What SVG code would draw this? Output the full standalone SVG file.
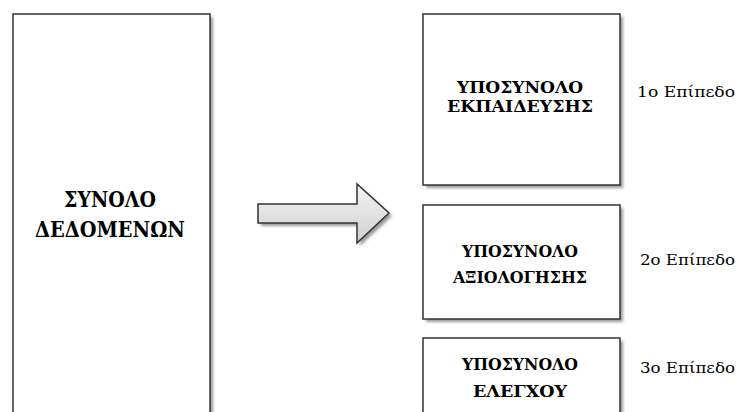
<svg xmlns="http://www.w3.org/2000/svg" width="736" height="412" viewBox="0 0 736 412">
<defs>
<linearGradient id="ag" x1="0" y1="0" x2="0" y2="1">
<stop offset="0" stop-color="#f4f4f4"/>
<stop offset="1" stop-color="#cfcfcf"/>
</linearGradient>
<filter id="sh" x="-10%" y="-10%" width="130%" height="130%">
<feGaussianBlur stdDeviation="1.5"/>
</filter>
</defs>
<style>
.box{fill:#fff;stroke:#333;stroke-width:1.5}
.shadow{fill:#999;filter:url(#sh)}
.t{font-family:"DejaVu Serif",serif;font-weight:bold;fill:#000;text-anchor:middle}
.lvl{font-family:"DejaVu Serif",serif;font-size:15px;fill:#000}
</style>
<rect width="736" height="412" fill="#fff"/>
<g id="set">
<rect class="shadow" x="16" y="17" width="197" height="410"/>
<rect class="box" x="13" y="14" width="197" height="410"/>
<text class="t" x="110" y="207" font-size="22" textLength="92" lengthAdjust="spacingAndGlyphs">ΣΥΝΟΛΟ</text>
<text class="t" x="110" y="237" font-size="22" textLength="150" lengthAdjust="spacingAndGlyphs">ΔΕΔΟΜΕΝΩΝ</text>
</g>
<g id="connectors">
<path class="shadow" d="M261,207 H360 V187 L392,216 L360,246 V226 H261 Z"/>
<path d="M258,204 H357 V184 L389,213 L357,243 V223 H258 Z" fill="url(#ag)" stroke="#333" stroke-width="1.5"/>
</g>
<g id="train">
<rect class="shadow" x="426" y="17" width="197" height="171"/>
<rect class="box" x="423" y="14" width="197" height="171"/>
<text class="t" x="520" y="93" font-size="17" textLength="126" lengthAdjust="spacingAndGlyphs">ΥΠΟΣΥΝΟΛΟ</text>
<text class="t" x="520" y="112" font-size="17" textLength="146" lengthAdjust="spacingAndGlyphs">ΕΚΠΑΙΔΕΥΣΗΣ</text>
<text class="lvl" x="637" y="97" textLength="98" lengthAdjust="spacingAndGlyphs">1ο Επίπεδο</text>
</g>
<g id="eval">
<rect class="shadow" x="426" y="208" width="197" height="114"/>
<rect class="box" x="423" y="205" width="197" height="114"/>
<text class="t" x="520" y="257" font-size="16" textLength="116" lengthAdjust="spacingAndGlyphs">ΥΠΟΣΥΝΟΛΟ</text>
<text class="t" x="520" y="283" font-size="16" textLength="134" lengthAdjust="spacingAndGlyphs">ΑΞΙΟΛΟΓΗΣΗΣ</text>
<text class="lvl" x="640" y="265" textLength="95" lengthAdjust="spacingAndGlyphs">2ο Επίπεδο</text>
</g>
<g id="test">
<rect class="shadow" x="426" y="341" width="197" height="100"/>
<rect class="box" x="423" y="338" width="197" height="100"/>
<text class="t" x="520" y="370" font-size="16" textLength="116" lengthAdjust="spacingAndGlyphs">ΥΠΟΣΥΝΟΛΟ</text>
<text class="t" x="520" y="397" font-size="16" textLength="94" lengthAdjust="spacingAndGlyphs">ΕΛΕΓΧΟΥ</text>
<text class="lvl" x="640" y="373" textLength="95" lengthAdjust="spacingAndGlyphs">3ο Επίπεδο</text>
</g>
</svg>
